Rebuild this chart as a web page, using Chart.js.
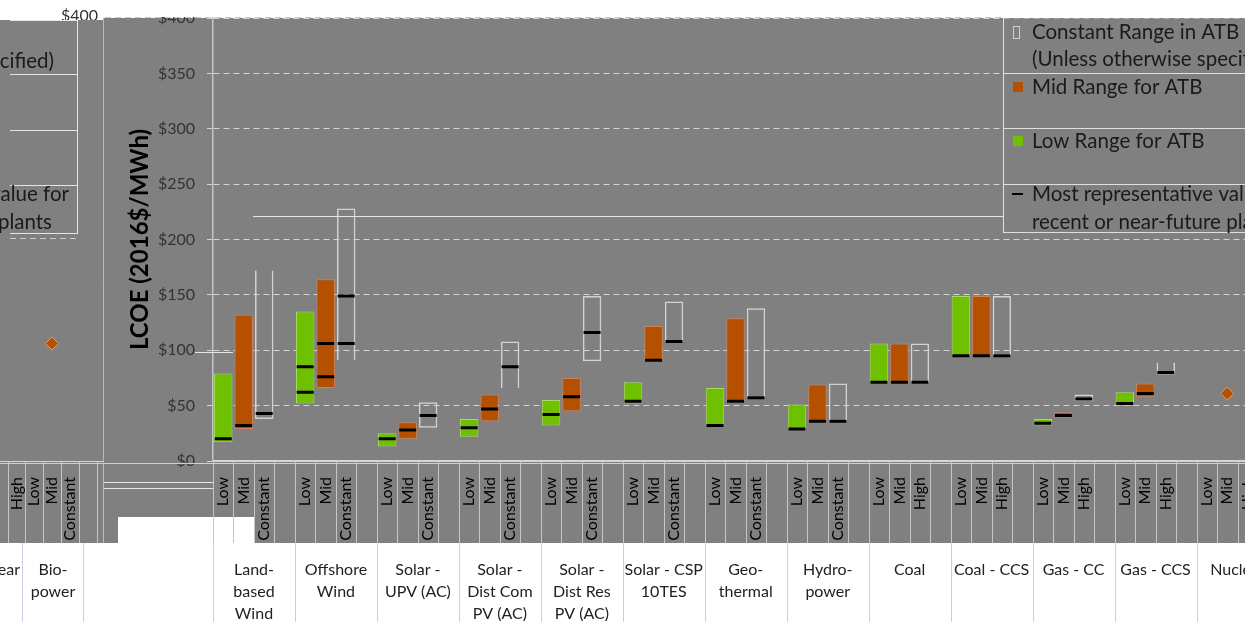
<!DOCTYPE html>
<html><head><meta charset="utf-8">
<script src="https://cdn.jsdelivr.net/npm/chart.js@4"></script>
<style>
html,body{margin:0;padding:0;background:#fff;width:1253px;height:622px;overflow:hidden;}
#wrap{position:absolute;left:0;top:0;width:1245px;height:622px;overflow:hidden;}
#main{position:absolute;left:0;top:0;}
#ghost{position:absolute;left:0;top:0;}
</style></head><body>
<div id="wrap"><canvas id="main" width="1290" height="622"></canvas><canvas id="ghost" width="104" height="622"></canvas></div>
<script>
// ---------- data ----------
const technologies = [['Land-','based','Wind'],['Offshore','Wind'],['Solar -','UPV (AC)'],['Solar -','Dist Com','PV (AC)'],['Solar -','Dist Res','PV (AC)'],['Solar - CSP','10TES'],['Geo-','thermal'],['Hydro-','power'],'Coal','Coal - CCS','Gas - CC','Gas - CCS','Nuclear'];
const thirdRangeNames = ['Constant','Constant','Constant','Constant','Constant','Constant','Constant','Constant','High','High','High','High','High'];
const lowRange   = [[17,79],[52,135],[13,25],[22,38],[32,55],[52,71],[32,66],[28,51],[70,106],[95,149],[32,38],[50,62],null];
const midRange   = [[29,132],[66,164],[20,35],[36,60],[45,75],[90,122],[54,129],[36,69],[70,106],[95,149],[39,44],[58,70],null];
const thirdRange = [[38,172],[91,228],[30,53],[66,108],[90,149],[107,144],[57,138],[36,70],[70,106],[95,149],[54,60],[78,89],null];
const repLow      = [20,62,20,30,42,54,32,29,71,95,34,52,null];
const repLowAlt   = [null,85,null,null,null,null,null,null,null,null,null,null,null];
const repMid      = [32,76,28,47,58,91,54,36,71,95,41,61,null];
const repMidAlt   = [null,106,null,null,null,null,null,null,null,null,null,null,null];
const repThird    = [43,106,41,85,116,108,57,36,71,95,56,80,null];
const repThirdAlt = [null,149,null,null,null,null,null,null,null,null,null,null,null];
const singleValue = [null,null,null,null,null,null,null,null,null,null,null,null,61]; // Mid slot
const yTicksMin = 0, yTicksMax = 400, yTickStep = 50;
const legendLines = [['Constant Range in ATB','(Unless otherwise specified)'],['Mid Range for ATB'],['Low Range for ATB'],['Most representative value for','recent or near-future plants']];
// ghost (left) panel
const ghostRanges = ['High','Low','Mid','Constant',''];
const ghostValues = [null,null,106,null,null];
const ghostTechs = ['Nuclear',['Bio-','power']];

// ---------- build ----------
const SLOTS = 4;
const slotLabels = [];
technologies.forEach((t,g)=>slotLabels.push('Low','Mid',thirdRangeNames[g],''));
function spread(parts){
  const out = new Array(technologies.length*SLOTS).fill(null);
  parts.forEach(([arr,k])=>arr.forEach((v,g)=>{ if(v!==null) out[g*SLOTS+k]=v; }));
  return out;
}
const GRAY='#808080', FONT='Lato';
const openEdges = {0:'top',1:'bottom',3:'bottom',11:'top'};
const markerDs = (data)=>({type:'line',data,showLine:false,order:0,pointStyle:'line',pointRadius:8.5,pointBorderWidth:3,pointBorderColor:'#000',pointBackgroundColor:'#000'});
const noPad = s=>{s.paddingLeft=0;s.paddingRight=0;s.paddingTop=0;s.paddingBottom=0;};

function divider(c,x,y0,y1,col){c.strokeStyle=col;c.lineWidth=1;c.beginPath();c.moveTo(x,y0);c.lineTo(x,y1);c.stroke();}
function hline(c,x0,x1,y,col,dash){c.strokeStyle=col;c.lineWidth=1;c.setLineDash(dash||[]);c.beginPath();c.moveTo(x0,y);c.lineTo(x1,y);c.stroke();c.setLineDash([]);}

const mainDecor = {
  id:'mainDecor',
  beforeDraw(chart){
    const c=chart.ctx, a=chart.chartArea, sw=(a.right-a.left)/slotLabels.length;
    c.save();
    c.fillStyle='#fff'; c.fillRect(0,0,chart.width,chart.height);
    c.fillStyle=GRAY; c.fillRect(104,18,chart.width-104,543-18);
    c.fillStyle='#fff'; c.fillRect(118,517,a.left+2*sw-118,26);
    c.restore();
  },
  afterDraw(chart){
    const c=chart.ctx, a=chart.chartArea, sw=(a.right-a.left)/slotLabels.length;
    c.save();
    for(let i=0;i<=slotLabels.length;i++){ const x=Math.round(a.left+i*sw)+0.5; divider(c,x,a.bottom+1,543,'#c6c6c6'); }
    for(let g=0;g<=technologies.length;g++){ const x=Math.round(a.left+g*SLOTS*sw)+0.5; divider(c,x,543,622,'#cdcde4'); }
    divider(c,103.5,18,543,'#b4b4e6');
    hline(c,104,chart.width,a.bottom+2.5,'#d0d0d0');
    // white band at top
    c.fillStyle='#fff'; c.fillRect(104,0,chart.width,17);
    hline(c,105,1003,17.5,'#c8c8c8',[6,4]);
    // ghost lines
    hline(c,253,1003,216.5,'#e6e6e6');
    hline(c,195,233,352.5,'#e6e6e6');
    hline(c,104,213,482.5,'#e6e6e6');
    hline(c,104,213,488.5,'#e6e6e6');
    // legend
    const L=1003;
    c.fillStyle=GRAY; c.fillRect(L,18.5,chart.width-L,214);
    divider(c,L+0.5,18,233,'#e8e8b0');
    [73.5,128.5,184.5,232.5].forEach(y=>hline(c,L,chart.width,y,'#e0e0e0'));
    c.font='20.5px '+FONT; c.fillStyle='#1a1a1a'; c.textBaseline='middle'; c.textAlign='left';
    const rowsY=[[32,59],[87],[141],[194,222]];
    legendLines.forEach((lines,r)=>lines.forEach((t,j)=>c.fillText(t,1032,rowsY[r][j])));
    // icons
    c.strokeStyle='#cfcfcf'; c.lineWidth=1; c.strokeRect(1013.5,26.5,6,12);
    c.fillStyle='#b45000'; c.fillRect(1013,82,10,10);
    c.fillStyle='#6fc000'; c.fillRect(1013,136,10,10);
    c.fillStyle='#000'; c.fillRect(1012,193,11,2);
    c.restore();
  }
};

new Chart(document.getElementById('main'),{
  type:'bar',
  data:{labels:slotLabels,datasets:[
    markerDs(spread([[repLow,0],[repMid,1],[repThird,2]])),
    markerDs(spread([[repLowAlt,0],[repMidAlt,1],[repThirdAlt,2]])),
    {type:'line',data:spread([[singleValue,1]]),showLine:false,order:0,pointStyle:'rectRot',pointRadius:6.5,pointBackgroundColor:'#b45000',pointBorderColor:'#e0a070',pointBorderWidth:1},
    {label:'Low Range for ATB',data:spread([[lowRange,0]]),order:1,grouped:false,backgroundColor:'#6fc000',borderColor:'#a8dc60',borderWidth:1,borderSkipped:false,barPercentage:0.9,categoryPercentage:1},
    {label:'Mid Range for ATB',data:spread([[midRange,1]]),order:1,grouped:false,backgroundColor:'#b45000',borderColor:'#d08058',borderWidth:1,borderSkipped:false,barPercentage:0.9,categoryPercentage:1},
    {label:'Constant Range in ATB',data:spread([[thirdRange,2]]),order:1,grouped:false,backgroundColor:'rgba(0,0,0,0)',borderColor:'#d2d2d2',borderWidth:1.5,
     borderSkipped:(ctx)=>openEdges[Math.floor(ctx.dataIndex/SLOTS)]||false,barPercentage:0.9,categoryPercentage:1}
  ]},
  options:{
    responsive:false,animation:false,events:[],
    layout:{padding:{top:18,left:0,right:0,bottom:0}},
    plugins:{legend:{display:false},tooltip:{enabled:false}},
    scales:{
      x:{type:'category',position:'bottom',offset:true,
         grid:{display:false},border:{display:true,color:'#d6d6d6',width:2},
         ticks:{autoSkip:false,minRotation:90,maxRotation:90,padding:8,color:'#000',font:{family:FONT,size:16}},
         afterFit:s=>{s.height=82;noPad(s);}},
      tech:{type:'category',position:'bottom',labels:technologies,offset:true,
         grid:{display:false},border:{display:false},
         ticks:{autoSkip:false,minRotation:0,maxRotation:0,padding:8,color:'#222',font:{family:FONT,size:16,lineHeight:1.36}},
         afterFit:s=>{s.height=79;noPad(s);}},
      y:{min:yTicksMin,max:yTicksMax,
         ticks:{stepSize:yTickStep,callback:v=>'$'+v,color:'#333',padding:12,font:{family:FONT,size:16}},
         grid:{color:ctx=>ctx.tick&&ctx.tick.value===0?'rgba(0,0,0,0)':'#d4d4d4',tickLength:6,tickColor:'#d4d4d4',tickBorderDash:[6,4]},
         border:{display:true,color:'#c4c4c4',width:1.5,dash:[6,4]},
         title:{display:true,text:'LCOE (2016$/MWh)',color:'#000',font:{family:FONT,size:24,weight:'bold'},padding:{top:126,bottom:0}},
         afterFit:s=>{s.width=213;noPad(s);}}
    }
  },
  plugins:[mainDecor]
});

// ---------- ghost panel on the left ----------
const ghostDecor = {
  id:'ghostDecor',
  beforeDraw(chart){
    const c=chart.ctx;
    c.save();
    c.fillStyle='#fff'; c.fillRect(0,0,chart.width,chart.height);
    c.font='16px '+FONT; c.fillStyle='#333'; c.textAlign='right'; c.textBaseline='middle';
    c.fillText('$'+yTicksMax,98,16);
    c.fillStyle=GRAY; c.fillRect(0,20,chart.width,543-20);
    [20.5,74.5,130.5,185.5,233.5].forEach(y=>hline(c,10,77,y,'#e4e4e4'));
    divider(c,77.5,20,234,'#eaeab4');
    hline(c,10,77,238.5,'#cccccc',[6,4]);
    c.font='20.5px '+FONT; c.fillStyle='#1a1a1a'; c.textAlign='right';
    c.fillText(legendLines[0][1],54,61);
    c.fillText(legendLines[3][0],69,194);
    c.fillText(legendLines[3][1],52,222);
    c.restore();
  },
  afterDraw(chart){
    const c=chart.ctx, a=chart.chartArea, sw=(a.right-a.left)/ghostRanges.length;
    c.save();
    for(let i=0;i<=ghostRanges.length;i++){ const x=Math.round(a.left+i*sw)+0.5; divider(c,x,a.bottom+1,543,'#c6c6c6'); }
    hline(c,0,chart.width,a.bottom+0.5,'#d6d6d6');
    hline(c,0,chart.width,a.bottom+2.5,'#d0d0d0');
    divider(c,22.5,543,622,'#cdcde4'); divider(c,83.5,543,622,'#cdcde4');
    divider(c,103.5,18,543,'#b4b4e6');
    c.font='16px '+FONT; c.fillStyle='#222'; c.textBaseline='middle';
    c.textAlign='right'; c.fillText(ghostTechs[0],20,570);
    c.textAlign='center'; ghostTechs[1].forEach((t,j)=>c.fillText(t,53,570+j*22));
    c.restore();
  }
};
new Chart(document.getElementById('ghost'),{
  type:'bar',
  data:{labels:ghostRanges,datasets:[
    {type:'line',data:ghostValues,showLine:false,pointStyle:'rectRot',pointRadius:6.5,pointBackgroundColor:'#b45000',pointBorderColor:'#e0a070',pointBorderWidth:1}
  ]},
  options:{
    responsive:false,animation:false,events:[],
    layout:{padding:{top:18,left:4,right:2,bottom:79}},
    plugins:{legend:{display:false},tooltip:{enabled:false}},
    scales:{
      x:{type:'category',offset:true,grid:{display:false},border:{display:false},
         ticks:{autoSkip:false,minRotation:90,maxRotation:90,padding:8,color:'#000',font:{family:FONT,size:16}},
         afterFit:s=>{s.height=82;noPad(s);}},
      y:{display:false,min:yTicksMin,max:yTicksMax,afterFit:noPad}
    }
  },
  plugins:[ghostDecor]
});
</script>
</body></html>
